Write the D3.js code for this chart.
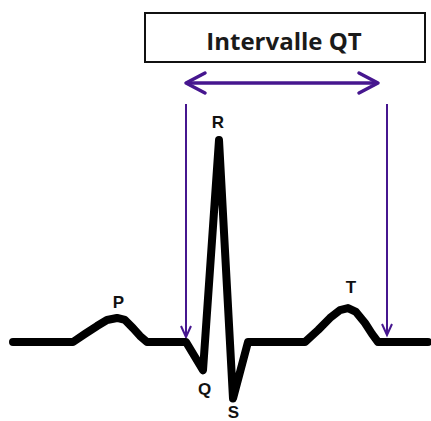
<!DOCTYPE html>
<html><head><meta charset="utf-8">
<script src="https://cdn.jsdelivr.net/npm/d3@7"></script>
<style>html,body{margin:0;padding:0;background:#fff;}svg{display:block;}</style>
</head><body>
<svg id="chart" width="431" height="421"></svg>
<script>
// ECG trace: time (arbitrary units) and amplitude (mV, R peak = 1)
const ecgTime = [0, 60, 72, 84, 94, 104, 112, 120, 127, 134, 173, 190, 206, 220, 235, 292, 305, 317, 327, 335, 343, 352, 359, 365, 415];
const ecgAmp  = [0, 0, 0.04, 0.079, 0.109, 0.119, 0.109, 0.069, 0.03, 0, 0, -0.14, 1.0, -0.28, 0, 0, 0.059, 0.119, 0.158, 0.168, 0.149, 0.094, 0.04, 0, 0];
const waveLabels = ["P", "Q", "R", "S", "T"];
const waveLabelTime = [105.5, 191.5, 205, 220.5, 338];
const waveLabelAmp  = [0.20, -0.233, 1.089, -0.345, 0.272];
const qtStart = 173, qtEnd = 374;
const title = "Intervalle QT";

const svg = d3.select("#chart");
const x = d3.scaleLinear().domain([0, 415]).range([13, 428]);
const y = d3.scaleLinear().domain([0, 1]).range([342, 140]);
const purple = "#46168f";

// title box
svg.append("rect").attr("x", 145).attr("y", 13).attr("width", 280).attr("height", 49)
  .attr("fill", "#fff").attr("stroke", "#111").attr("stroke-width", 2);
svg.append("text").attr("x", 284).attr("y", 50).attr("text-anchor", "middle")
  .attr("font-family", "'Open Sans', Lato, sans-serif").attr("font-weight", "bold")
  .attr("font-size", 24).attr("fill", "#1a1a1a").text(title);

// double arrow
const ay = 83;
const x1 = x(qtStart), x2 = x(qtEnd) - 9;
svg.append("line").attr("x1", x1 + 2).attr("x2", x2 - 2).attr("y1", ay).attr("y2", ay)
  .attr("stroke", purple).attr("stroke-width", 3.5);
svg.append("path").attr("d", `M${x1 + 19},${ay - 10} L${x1},${ay} L${x1 + 19},${ay + 10}`)
  .attr("fill", "none").attr("stroke", purple).attr("stroke-width", 3.5).attr("stroke-linejoin", "round").attr("stroke-linecap", "round");
svg.append("path").attr("d", `M${x2 - 19},${ay - 10} L${x2},${ay} L${x2 - 19},${ay + 10}`)
  .attr("fill", "none").attr("stroke", purple).attr("stroke-width", 3.5).attr("stroke-linejoin", "round").attr("stroke-linecap", "round");

// vertical markers
[[qtStart, 337], [qtEnd, 335]].forEach(([t, tip]) => {
  const vx = x(t);
  svg.append("line").attr("x1", vx).attr("x2", vx).attr("y1", 104).attr("y2", tip)
    .attr("stroke", purple).attr("stroke-width", 2);
  svg.append("path").attr("d", `M${vx - 5},${tip - 11} L${vx},${tip} L${vx + 5},${tip - 11}`)
    .attr("fill", "none").attr("stroke", purple).attr("stroke-width", 2);
});

// ECG trace
const pts = ecgTime.map((t, i) => [t, ecgAmp[i]]);
svg.append("path")
  .attr("d", d3.line().x(d => x(d[0])).y(d => y(d[1])).curve(d3.curveLinear)(pts))
  .attr("fill", "none").attr("stroke", "#000").attr("stroke-width", 8)
  .attr("stroke-linejoin", "round").attr("stroke-linecap", "round");

// wave labels
svg.selectAll("text.lbl").data(waveLabels).enter().append("text").attr("class", "lbl")
  .attr("x", (d, i) => x(waveLabelTime[i])).attr("y", (d, i) => y(waveLabelAmp[i]))
  .attr("dy", "0.36em").attr("text-anchor", "middle")
  .attr("font-family", "Arial, 'Liberation Sans', sans-serif").attr("font-weight", "bold")
  .attr("font-size", 17).attr("fill", "#111").text(d => d);
</script>
</body></html>
